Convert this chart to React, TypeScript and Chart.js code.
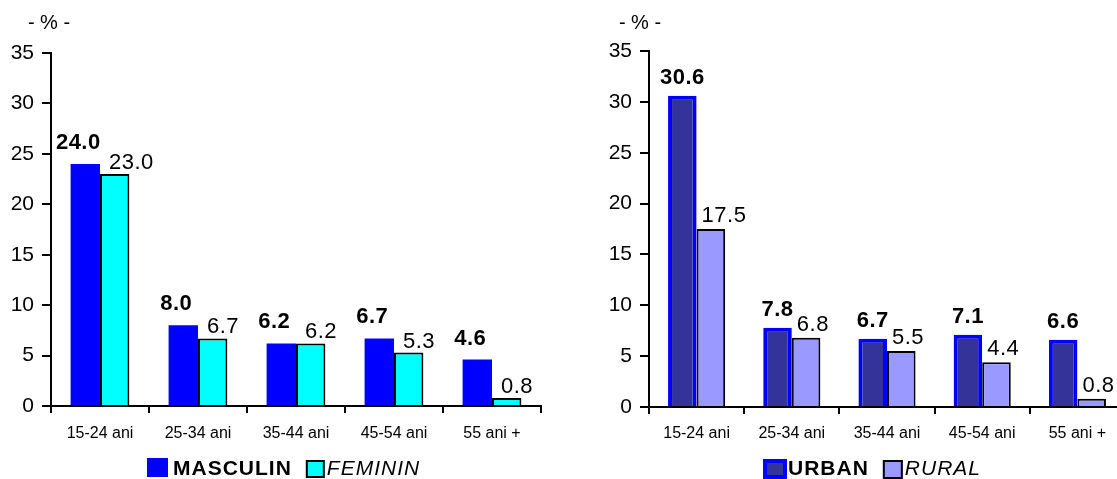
import React, { useEffect, useRef } from "react";
import { Chart, registerables } from "chart.js";

Chart.register(...registerables);

const categories = ["15-24 ani", "25-34 ani", "35-44 ani", "45-54 ani", "55 ani +"];
const masculin = [24.0, 8.0, 6.2, 6.7, 4.6];
const feminin = [23.0, 6.7, 6.2, 5.3, 0.8];
const urban = [30.6, 7.8, 6.7, 7.1, 6.6];
const rural = [17.5, 6.8, 5.5, 4.4, 0.8];
const yTickValues = [0, 5, 10, 15, 20, 25, 30, 35];
const unitLabel = "- % -";

const FONT = '"Liberation Sans", Arial, Helvetica, sans-serif';

const annotatePlugin = {
  id: "annot",
  afterDraw(chart: any, _args: any, opts: any) {
    const ctx: CanvasRenderingContext2D = chart.ctx;
    const area = chart.chartArea;
    ctx.save();
    // value labels
    chart.data.datasets.forEach((ds: any, di: number) => {
      const meta = chart.getDatasetMeta(di);
      const lab = opts.labels[di];
      meta.data.forEach((el: any, i: number) => {
        const v = ds.data[i] as number;
        const txt = v.toFixed(1);
        ctx.font = `${lab.bold ? "bold " : ""}22px ${FONT}`;
        (ctx as any).letterSpacing = "0.5px";
        ctx.fillStyle = "#000";
        ctx.textBaseline = "alphabetic";
        let x: number;
        if (lab.align === "left") {
          ctx.textAlign = "left";
          x = el.x - el.width / 2 + lab.dx;
        } else {
          ctx.textAlign = "center";
          x = el.x + lab.dx;
        }
        ctx.fillText(txt, x, el.y - lab.dy);
      });
    });
    // unit label
    (ctx as any).letterSpacing = "0px";
    ctx.font = `20px ${FONT}`;
    ctx.textAlign = "center";
    ctx.textBaseline = "middle";
    ctx.fillStyle = "#000";
    ctx.fillText(unitLabel, area.left + opts.unitDx, 23);
    // legend
    let x = opts.legendX;
    const items = chart.data.datasets.map((ds: any, di: number) => ({ ds, cfg: opts.legend[di] }));
    items.forEach(({ ds, cfg }: any) => {
      ctx.fillStyle = ds.backgroundColor;
      ctx.fillRect(x, cfg.boxTop, cfg.boxW, cfg.boxH);
      if (cfg.bw > 0) {
        ctx.strokeStyle = cfg.border;
        ctx.lineWidth = cfg.bw;
        ctx.strokeRect(x + cfg.bw / 2, cfg.boxTop + cfg.bw / 2, cfg.boxW - cfg.bw, cfg.boxH - cfg.bw);
      }
      x += cfg.boxW + cfg.gap;
      ctx.font = `${cfg.bold ? "bold " : ""}${cfg.italic ? "italic " : ""}21px ${FONT}`;
      (ctx as any).letterSpacing = "1px";
      ctx.fillStyle = "#000";
      ctx.textAlign = "left";
      ctx.textBaseline = "alphabetic";
      ctx.fillText(ds.label, x, 475);
      x += ctx.measureText(ds.label).width + 14;
    });
    ctx.restore();
  },
};

function makeOptions(p: any) {
  return {
    responsive: false,
    animation: false as const,
    devicePixelRatio: 1,
    layout: { padding: { left: 0, right: p.padRight, top: p.padTop, bottom: 0 } },
    plugins: {
      legend: { display: false },
      tooltip: { enabled: false },
      annot: p.annot,
    },
    scales: {
      x: {
        type: "category" as const,
        grid: {
          offset: true,
          drawOnChartArea: false,
          drawTicks: true,
          tickLength: 7,
          color: "#000",
          lineWidth: 2,
        },
        border: { display: true, color: "#000", width: 2 },
        ticks: {
          color: "#000",
          padding: p.xPad,
          font: { family: FONT, size: 16 },
          maxRotation: 0,
          autoSkip: false,
        },
        afterFit: (s: any) => {
          s.height = p.xHeight;
        },
      },
      y: {
        min: yTickValues[0],
        max: yTickValues[yTickValues.length - 1],
        grid: {
          drawOnChartArea: false,
          drawTicks: true,
          tickLength: 9,
          color: "#000",
          lineWidth: 2,
        },
        border: { display: true, color: "#000", width: 2 },
        ticks: {
          stepSize: yTickValues[1] - yTickValues[0],
          color: "#000",
          padding: 8,
          font: { family: FONT, size: 21 },
        },
        afterFit: (s: any) => {
          s.width = p.yWidth;
        },
      },
    },
  };
}

function ChartCanvas({ config, style, w, h }: any) {
  const ref = useRef<HTMLCanvasElement | null>(null);
  useEffect(() => {
    if (!ref.current) return;
    const chart = new Chart(ref.current, config);
    return () => chart.destroy();
  }, []);
  return <canvas ref={ref} width={w} height={h} style={{ position: "absolute", width: w, height: h, ...style }} />;
}

const leftConfig: any = {
  type: "bar",
  data: {
    labels: categories,
    datasets: [
      {
        label: "MASCULIN",
        data: masculin,
        backgroundColor: "#0000FF",
        borderWidth: 0,
        categoryPercentage: 0.6,
        barPercentage: 1,
      },
      {
        label: "FEMININ",
        data: feminin,
        backgroundColor: "#00FFFF",
        borderColor: "#000",
        borderWidth: 2,
        borderSkipped: "start",
        categoryPercentage: 0.6,
        barPercentage: 1,
      },
    ],
  },
  options: makeOptions({
    padRight: 19,
    padTop: 53,
    xHeight: 73,
    yWidth: 51,
    xPad: 11,
    annot: {
      labels: [
        { bold: true, align: "center", dx: -7, dy: 15 },
        { bold: false, align: "left", dx: 9, dy: 5 },
      ],
      unitDx: -2,
      legendX: 147,
      legend: [
        { boxW: 21, boxH: 19, boxTop: 458, bw: 0, border: "#0000FF", gap: 5, bold: true, italic: false },
        { boxW: 19, boxH: 18, boxTop: 460, bw: 2, border: "#000", gap: 2, bold: false, italic: true },
      ],
    },
  }),
  plugins: [annotatePlugin],
};

const rightConfig: any = {
  type: "bar",
  data: {
    labels: categories,
    datasets: [
      {
        label: "URBAN",
        data: urban,
        backgroundColor: "#333399",
        borderColor: "#0000FF",
        borderWidth: 4,
        borderSkipped: "start",
        categoryPercentage: 0.6,
        barPercentage: 1,
      },
      {
        label: "RURAL",
        data: rural,
        backgroundColor: "#9999FF",
        borderColor: "#000",
        borderWidth: 2,
        borderSkipped: "start",
        categoryPercentage: 0.6,
        barPercentage: 1,
      },
    ],
  },
  options: makeOptions({
    padRight: 35,
    padTop: 51,
    xHeight: 72,
    yWidth: 89,
    xPad: 10,
    annot: {
      labels: [
        { bold: true, align: "center", dx: 0, dy: 12 },
        { bold: false, align: "left", dx: 5, dy: 7 },
      ],
      unitDx: -9,
      legendX: 203,
      legend: [
        { boxW: 24, boxH: 20, boxTop: 459, bw: 4, border: "#0000FF", gap: 1, bold: true, italic: false },
        { boxW: 20, boxH: 19, boxTop: 460, bw: 2, border: "#000", gap: 2, bold: false, italic: true },
      ],
    },
  }),
  plugins: [annotatePlugin],
};

export default function App() {
  return (
    <div
      style={{
        position: "absolute",
        left: 0,
        top: 0,
        width: 1117,
        height: 479,
        overflow: "hidden",
        background: "#fff",
      }}
    >
      <ChartCanvas config={leftConfig} w={560} h={479} style={{ left: 0, top: 0 }} />
      <ChartCanvas config={rightConfig} w={600} h={479} style={{ left: 560, top: 0 }} />
    </div>
  );
}
